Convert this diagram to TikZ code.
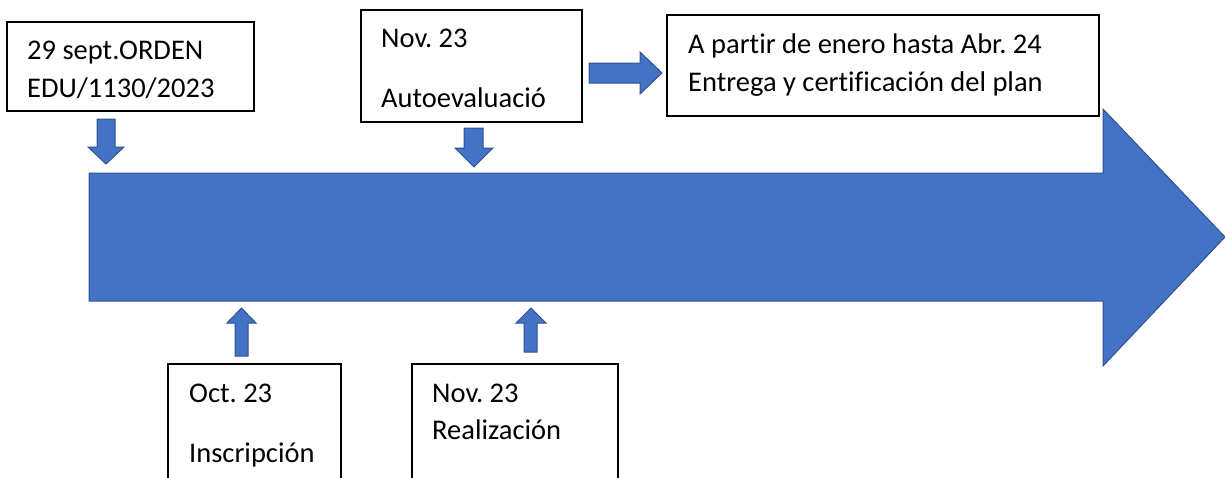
\documentclass[tikz,border=0pt]{standalone}
\usepackage{fontspec}
\setmainfont{Carlito}[Ligatures={NoCommon}]
\frenchspacing
\definecolor{arrfill}{RGB}{68,114,196}
\definecolor{arredge}{RGB}{47,82,143}
\tikzset{
  box/.style={draw=black, line width=1.2pt, fill=white, inner sep=0pt, outer sep=0pt},
  lbl/.style={anchor=base west, inner sep=0pt, font=\fontsize{28.5}{34}\selectfont},
  blockarrow/.style={fill=arrfill, draw=arredge, line width=1pt, line join=miter}
}
\begin{document}
\begin{tikzpicture}[x=1pt,y=-1pt]
\useasboundingbox (0,0) rectangle (1225,477);
\clip (0,0) rectangle (1225,477);
% timeline arrow
\draw[blockarrow] (89,173) -- (1103,173) -- (1103,109) -- (1225,237) -- (1103,366) -- (1103,301) -- (89,301) -- cycle;
% boxes
\node[box, minimum width=247pt, minimum height=89pt] (b1) at (130.5,66.5) {};
\node[box, minimum width=221pt, minimum height=112pt] (b2) at (471.5,66) {};
\node[box, minimum width=432pt, minimum height=101pt] (b3) at (883,65.5) {};
\node[box, minimum width=173pt, minimum height=116pt] (b4) at (254.5,422) {};
\node[box, minimum width=206pt, minimum height=116pt] (b5) at (515,422) {};
% texts
\node[lbl] (t1a) at (27,59) {29 sept.ORDEN};
\node[lbl] (t1b) at (27,97) {EDU/1130/2023};
\node[lbl] (t2a) at (381,47) {Nov. 23};
\node[lbl] (t2b) at (381,107) {Autoevaluació};
\node[lbl] (t3a) at (688,53) {A partir de enero hasta Abr. 24};
\node[lbl] (t3b) at (688,91) {Entrega y certificación del plan};
\node[lbl] (t4a) at (189,402) {Oct. 23};
\node[lbl] (t4b) at (189,462) {Inscripción};
\node[lbl] (t5a) at (432,402) {Nov. 23};
\node[lbl] (t5b) at (432,439) {Realización};
% small block arrows
\draw[blockarrow] (97,119) -- (115,119) -- (115,147) -- (124,147) -- (106,164) -- (88,147) -- (97,147) -- cycle;
\draw[blockarrow] (464,128) -- (483,128) -- (483,148) -- (493,148) -- (474,167) -- (455,148) -- (464,148) -- cycle;
\draw[blockarrow] (589,63) -- (640,63) -- (640,52) -- (662,73) -- (640,94) -- (640,83) -- (589,83) -- cycle;
\draw[blockarrow] (235,356) -- (248,356) -- (248,323) -- (256,323) -- (241.5,308) -- (227,323) -- (235,323) -- cycle;
\draw[blockarrow] (524,352) -- (537,352) -- (537,323) -- (546,323) -- (531,308) -- (516,323) -- (524,323) -- cycle;
\end{tikzpicture}
\end{document}
